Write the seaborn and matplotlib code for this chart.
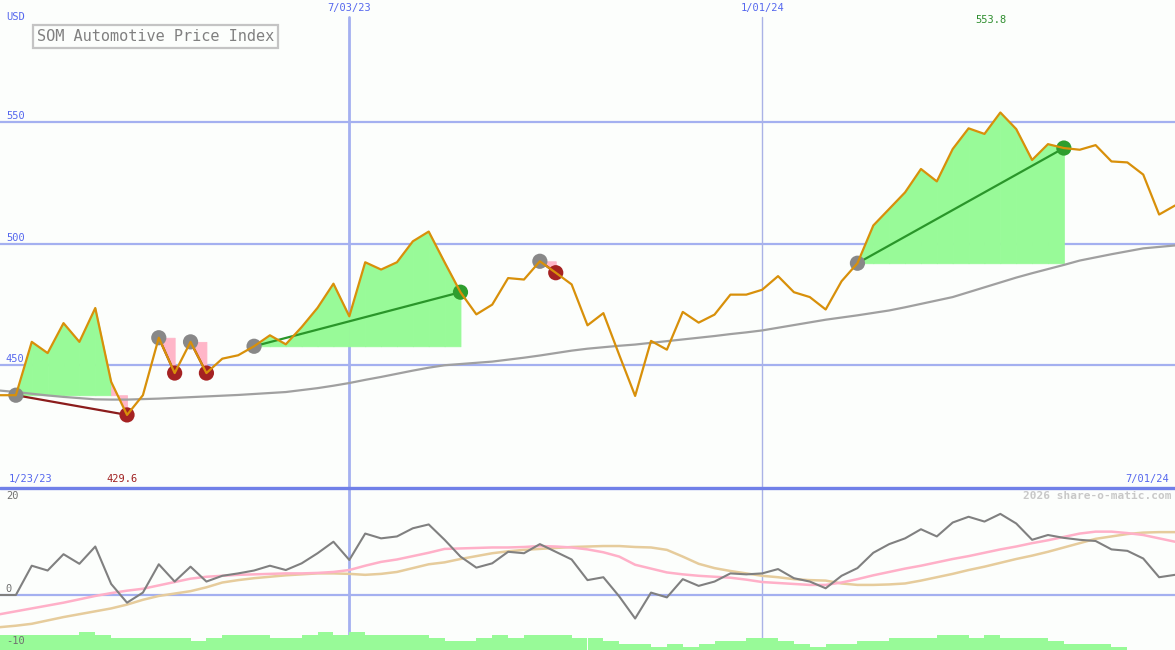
import numpy as np
import pandas as pd
import matplotlib
matplotlib.use("Agg")
import matplotlib.pyplot as plt
import matplotlib.transforms as mtransforms
import seaborn as sns

# weekly data, first week 1/30/23, last 7/01/24
start_date = "2023-01-30"

price = [437.7, 437.7, 459.6, 455.0, 467.3, 459.6, 473.5, 443.2, 429.6, 437.7,
         461.3, 446.8, 459.6, 446.8, 452.7, 454.1, 457.8, 462.3, 458.6, 465.7,
         473.6, 483.5, 470.1, 492.3, 489.3, 492.3, 500.9, 504.9, 492.3, 480.0,
         470.9, 474.9, 485.8, 485.2, 492.7, 488.0, 483.2, 466.4, 471.4, 454.2,
         437.4, 460.0, 456.4, 471.9, 467.5, 470.8, 479.0, 479.0, 481.0, 486.6,
         480.0, 478.0, 472.9, 484.5, 491.9, 507.4, 514.2, 521.0, 530.6, 525.5,
         538.8, 547.3, 545.0, 553.8, 547.0, 534.3, 540.8, 539.2, 538.5, 540.4,
         533.7, 533.3, 528.3, 511.9, 515.6]

price_ma = [439.6, 439.0, 438.3, 437.6, 437.0, 436.5, 436.0, 435.9, 435.9, 436.1,
            436.3, 436.6, 436.9, 437.2, 437.5, 437.8, 438.2, 438.6, 439.0, 439.8,
            440.6, 441.6, 442.7, 444.0, 445.2, 446.5, 447.8, 449.0, 450.0, 450.5,
            451.0, 451.5, 452.3, 453.1, 454.0, 455.0, 456.0, 456.8, 457.4, 458.0,
            458.5, 459.2, 459.9, 460.6, 461.3, 462.0, 462.8, 463.5, 464.3, 465.4,
            466.5, 467.6, 468.7, 469.6, 470.5, 471.5, 472.5, 473.8, 475.2, 476.6,
            478.0, 480.0, 482.0, 484.0, 486.0, 487.8, 489.5, 491.2, 493.0, 494.3,
            495.6, 496.8, 498.0, 498.6, 499.2]

osc = [0.0, 0.0, 6.1, 5.1, 8.5, 6.5, 10.1, 2.3, -1.6, 0.5,
       6.4, 2.8, 5.9, 2.8, 4.0, 4.5, 5.1, 6.1, 5.2, 6.6,
       8.7, 11.1, 7.3, 12.8, 11.8, 12.2, 13.9, 14.7, 11.5, 8.0,
       5.7, 6.6, 9.0, 8.7, 10.6, 9.0, 7.4, 3.1, 3.7, -0.3,
       -4.9, 0.5, -0.5, 3.3, 1.9, 2.8, 4.5, 4.3, 4.5, 5.4,
       3.5, 2.8, 1.4, 4.0, 5.6, 8.8, 10.6, 11.8, 13.7, 12.2,
       15.1, 16.3, 15.3, 16.9, 14.9, 11.5, 12.5, 11.9, 11.5, 11.25,
       9.5, 9.2, 7.6, 3.7, 4.2]

osc_fast = [-4.0, -3.4, -2.8, -2.2, -1.6, -0.9, -0.2, 0.4, 0.9, 1.3,
            2.0, 2.7, 3.4, 3.8, 4.0, 4.2, 4.3, 4.4, 4.5, 4.5,
            4.6, 4.8, 5.2, 6.1, 6.9, 7.4, 8.1, 8.8, 9.6, 9.7,
            9.8, 9.9, 9.9, 10.0, 10.2, 10.1, 9.9, 9.5, 8.9, 8.0,
            6.3, 5.5, 4.7, 4.3, 4.0, 3.8, 3.6, 3.2, 2.7, 2.5,
            2.3, 2.1, 2.1, 2.6, 3.3, 4.1, 4.8, 5.5, 6.1, 6.8,
            7.5, 8.1, 8.8, 9.5, 10.1, 10.8, 11.4, 12.1, 12.8, 13.2,
            13.2, 12.9, 12.5, 11.8, 11.1]

osc_slow = [-6.7, -6.4, -6.0, -5.3, -4.6, -4.0, -3.4, -2.8, -2.0, -1.0,
            -0.2, 0.3, 0.8, 1.6, 2.6, 3.1, 3.5, 3.8, 4.1, 4.3,
            4.5, 4.5, 4.4, 4.2, 4.4, 4.8, 5.6, 6.4, 6.8, 7.5,
            8.1, 8.7, 9.1, 9.4, 9.6, 9.8, 10.0, 10.1, 10.2, 10.2,
            10.0, 9.9, 9.4, 8.0, 6.5, 5.6, 5.0, 4.5, 4.0, 3.7,
            3.3, 3.1, 3.0, 2.4, 2.1, 2.1, 2.2, 2.4, 3.0, 3.7,
            4.4, 5.2, 5.9, 6.7, 7.5, 8.2, 9.0, 9.9, 10.8, 11.7,
            12.2, 12.7, 13.0, 13.1, 13.1]

vol_level = [5, 5, 5, 5, 5, 6, 5, 4, 4, 4,
             4, 4, 3, 4, 5, 5, 5, 4, 4, 5,
             6, 5, 6, 5, 5, 5, 5, 4, 3, 3,
             4, 5, 4, 5, 5, 5, 4, 4, 3, 2,
             2, 1, 2, 1, 2, 3, 3, 4, 4, 3,
             2, 1, 2, 2, 3, 3, 4, 4, 4, 5,
             5, 4, 5, 4, 4, 4, 3, 2, 2, 2,
             1, 0, 0, 0, 0]

# (start week, end week) of each signal
signals = [(1, 8), (10, 11), (12, 13), (16, 29), (34, 35), (54, 67)]

price_ticks = [450, 500, 550]
date_marks = ["2023-07-03", "2024-01-01"]
date_labels = ["7/03/23", "1/01/24"]

BG = "#fcfefc"
GRID = "#a4b0f0"
BLUE_TXT = "#5567ee"
ORANGE = "#d8900a"
UP_FILL = "#98fa98"
DOWN_FILL = "#ffb6c8"
UP_DOT = "#2e9e2e"
DOWN_DOT = "#a52222"

dates = pd.date_range(start_date, periods=len(price), freq="7D")
df = pd.DataFrame({"date": dates, "price": price, "ma": price_ma,
                   "osc": osc, "fast": osc_fast, "slow": osc_slow,
                   "vol": vol_level})

sns.set_style("white")
plt.rcParams["font.family"] = ["DejaVu Sans Mono"]

W, H = 1175, 650
split = 163  # pixel height of lower panel
fig = plt.figure(figsize=(W / 100, H / 100), dpi=100, facecolor=BG)
ax = fig.add_axes([0, split / H, 1, 1 - split / H])
ax2 = fig.add_axes([0, 0, 1, split / H])
ax3 = ax2.twinx()
for a in (ax, ax2, ax3):
    a.set_axis_off()
    a.set_xlim(dates[0], dates[-1])
ax.set_ylim(400, 600)
ax2.set_ylim(-11.46, 22.5)
ax3.set_ylim(0, 54)
ax2.set_zorder(ax3.get_zorder() + 1)
ax2.patch.set_visible(False)

# --- price panel ---
ytrans = mtransforms.blended_transform_factory(ax.transAxes, ax.transData)
for v in price_ticks:
    ax.axhline(v, color=GRID, lw=1.6, zorder=0)
    ax.text(0.005, v + 0.4, str(v), transform=ytrans, color=BLUE_TXT,
            fontsize=7.5, va="bottom", ha="left")

for d, lab, lw, col in zip(date_marks, date_labels, [2.0, 1.0], [GRID, "#aab2e6"]):
    ax.axvline(pd.Timestamp(d), ymax=0.965, color=col, lw=lw, zorder=0)
    ax.text(pd.Timestamp(d), 596.8, lab, color=BLUE_TXT, fontsize=7.5,
            ha="center", va="center")
    ax3.axvline(pd.Timestamp(d), color=col, lw=lw, zorder=0)

for s, e in signals:
    base = price[s]
    for i in range(s, e):
        col = UP_FILL if price[i + 1] >= base else DOWN_FILL
        ax.fill_between(dates[i:i + 2], price[i:i + 2], base, facecolor=col,
                        edgecolor=col, lw=0.6, zorder=1)

sns.lineplot(data=df, x="date", y="ma", ax=ax, color="#a0a0a0", lw=1.6, zorder=2)

for s, e in signals:
    up = price[e] > price[s]
    ax.plot([dates[s], dates[e]], [price[s], price[e]],
            color="#2a962a" if up else "#8b1c1c", lw=1.6, zorder=3)
    sns.scatterplot(x=[dates[s]], y=[price[s]], ax=ax, color="#888888",
                    s=120, edgecolor="none", zorder=4, legend=False)
    sns.scatterplot(x=[dates[e]], y=[price[e]], ax=ax,
                    color=UP_DOT if up else DOWN_DOT,
                    s=120, edgecolor="none", zorder=4, legend=False)

sns.lineplot(data=df, x="date", y="price", ax=ax, color=ORANGE, lw=1.6, zorder=5)

imax = int(np.argmax(price))
imin = int(np.argmin(price))
ax.annotate(f"{price[imax]:.1f}", xy=(dates[imax], 591.8), xytext=(-9, 0),
            textcoords="offset pixels", color="#2e8e2e", fontsize=7.5,
            ha="center", va="center")
ax.annotate(f"{price[imin]:.1f}", xy=(dates[imin], 403.3), xytext=(-5, 0),
            textcoords="offset pixels", color="#a02020", fontsize=7.5,
            ha="center", va="center")
ax.text(0.007, 403.3, "1/23/23", transform=ytrans, color=BLUE_TXT,
        fontsize=7.5, ha="left", va="center")
ax.text(0.995, 403.3, "7/01/24", transform=ytrans, color=BLUE_TXT,
        fontsize=7.5, ha="right", va="center")
ax.text(0.005, 593, "USD", transform=ytrans, color=BLUE_TXT,
        fontsize=7.5, ha="left", va="center")

fig.text(37 / W, 1 - 36.5 / H, "SOM Automotive Price Index", color="#808080",
         fontsize=11, ha="left", va="center",
         bbox=dict(boxstyle="square,pad=0.25", fc=BG, ec="#c4c4c4", lw=1.6))

# --- indicator panel ---
ax3.bar(dates, vol_level, width=7, align="edge", color=UP_FILL, lw=0, zorder=1)

ax2.axhline(0, color=GRID, lw=1.6, zorder=0)
ax2.axhline(22.3, color="#7080e8", lw=2.4, zorder=6, clip_on=False)
sns.lineplot(data=df, x="date", y="slow", ax=ax2, color="#e6cc9c", lw=1.8, zorder=2)
sns.lineplot(data=df, x="date", y="fast", ax=ax2, color="#ffb0c8", lw=1.8, zorder=3)
sns.lineplot(data=df, x="date", y="osc", ax=ax2, color="#808080", lw=1.5, zorder=4)
ax2.set_axis_off()

ytrans2 = mtransforms.blended_transform_factory(ax2.transAxes, ax2.transData)
for v, lab in [(20.6, "20"), (1.25, "0"), (-9.6, "-10")]:
    ax2.text(0.005, v, lab, transform=ytrans2, color="#707070", fontsize=7.5,
             ha="left", va="center")
ax2.text(0.997, 20.6, "2026 share-o-matic.com", transform=ytrans2,
         color="#c8c8c8", fontsize=8, fontweight="bold", ha="right", va="center")

fig.savefig("out.png", dpi=100, facecolor=BG)
